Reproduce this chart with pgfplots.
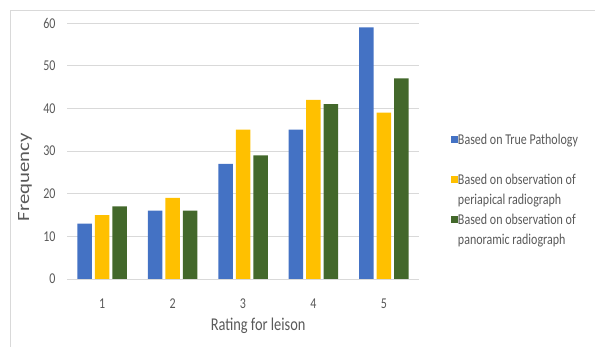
\documentclass[border=0pt]{standalone}
\usepackage{fontspec}
\setmainfont{Carlito}[FakeStretch=0.8]
\usepackage{graphicx}
\usepackage{pgfplots}
\pgfplotsset{compat=1.18}
\definecolor{cblue}{HTML}{4472C4}
\definecolor{cyellow}{HTML}{FFC000}
\definecolor{cgreen}{HTML}{43682B}
\definecolor{txtgray}{HTML}{595959}
\definecolor{gridgray}{HTML}{D9D9D9}
\pgfplotsset{sqlegend/.style={legend image code/.code={\fill[##1, draw=none] (0bp,-2.5bp) rectangle (7bp,4.5bp);}}}
\begin{document}
\begin{tikzpicture}
\path[use as bounding box] (0bp,0bp) rectangle (595bp,347bp);
\draw[gridgray, line width=1bp] (10.5bp,0bp) -- (10.5bp,336.5bp) -- (595bp,336.5bp);
\begin{axis}[
  at={(67bp,68bp)}, anchor=south west,
  scale only axis, width=352bp, height=256bp,
  xmin=0.5, xmax=5.5, ymin=0, ymax=60,
  ybar, bar width=14.5bp,
  xtick={1,2,3,4,5}, ytick={0,10,20,30,40,50,60},
  /pgf/number format/assume math mode=true,
  axis line style={draw=none},
  major tick length=0pt,
  ymajorgrids, major grid style={gridgray, line width=1bp},
  ticklabel style={font=\fontsize{15bp}{17bp}\selectfont, text=txtgray},
  yticklabel style={xshift=-8bp},
  xticklabel style={yshift=-16bp},
  xlabel={Rating for leison},
  xlabel style={at={(axis description cs:0.543,-0.184)}, anchor=center, font=\fontsize{18bp}{20bp}\selectfont, text=txtgray},
  ylabel={\resizebox{88bp}{11bp}{Frequency}},
  ylabel style={at={(axis description cs:-0.119,0.398)}, anchor=center, text=txtgray},
  legend style={at={(axis description cs:1.0909,0.570)}, anchor=north west, draw=none, fill=none,
    inner sep=0pt, outer sep=0pt,
    font=\fontsize{15bp}{18bp}\selectfont, text=txtgray,
    nodes={inner sep=0pt, text height=11bp, text depth=4bp},
    row sep=5bp,
    /tikz/every even column/.append style={column sep=3bp}},
  legend cell align=left,
]
\addplot[fill=cblue, draw=none, bar shift=-17.5bp, sqlegend]
  coordinates {(1,13) (2,16) (3,27) (4,35) (5,59)};
\addlegendentry{Based on True Pathology}
\addlegendimage{empty legend}
\addlegendentry{}
\addplot[fill=cyellow, draw=none, bar shift=0bp, sqlegend]
  coordinates {(1,15) (2,19) (3,35) (4,42) (5,39)};
\addlegendentry{Based on observation of}
\addlegendimage{empty legend}
\addlegendentry{periapical radiograph}
\addplot[fill=cgreen, draw=none, bar shift=17.5bp, sqlegend]
  coordinates {(1,17) (2,16) (3,29) (4,41) (5,47)};
\addlegendentry{Based on observation of}
\addlegendimage{empty legend}
\addlegendentry{panoramic radiograph}
\end{axis}
\end{tikzpicture}
\end{document}
